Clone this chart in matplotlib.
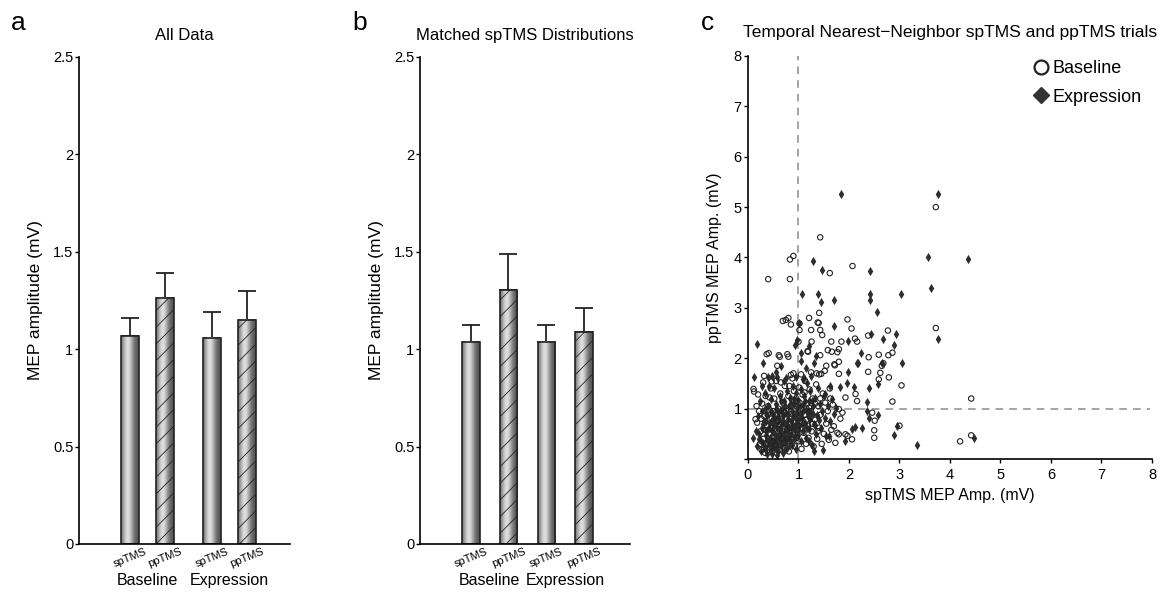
import numpy as np
import matplotlib
matplotlib.use('Agg')
import matplotlib.pyplot as plt
from matplotlib.lines import Line2D

plt.rcParams['font.family'] = ['Liberation Sans', 'DejaVu Sans']
plt.rcParams['hatch.linewidth'] = 0.6

# --- bar panels (a, b) ---
bar_labels = ['spTMS', 'ppTMS', 'spTMS', 'ppTMS']
group_labels = ['Baseline', 'Expression']
all_means = [1.065, 1.265, 1.058, 1.152]
all_sem = [0.095, 0.125, 0.132, 0.148]
matched_means = [1.037, 1.302, 1.037, 1.088]
matched_sem = [0.089, 0.185, 0.088, 0.122]

# --- scatter panel (c): (spTMS, ppTMS) MEP amplitude pairs in mV ---
baseline_pts = [
    (3.72, 5.00), (1.43, 4.40), (0.90, 4.03), (0.83, 3.96), (2.07, 3.83), (1.62, 3.69),
    (0.40, 3.57), (0.83, 3.57), (1.41, 2.90), (1.21, 2.80), (1.97, 2.77), (0.69, 2.74),
    (0.75, 2.76), (0.80, 2.80), (0.85, 2.67), (1.38, 2.71), (3.72, 2.60), (4.42, 1.20),
    (4.20, 0.35), (4.42, 0.47), (3.00, 0.66), (3.04, 1.46), (2.86, 1.14), (2.86, 2.11),
    (2.78, 2.06), (2.59, 2.07), (2.39, 2.02), (2.77, 2.55), (2.38, 2.45), (2.05, 2.59),
    (2.12, 2.39), (2.16, 2.33), (1.85, 2.33), (1.80, 2.18), (1.77, 2.12), (1.66, 2.13),
    (1.58, 2.16), (1.65, 2.33), (1.71, 1.88), (1.80, 1.93), (2.38, 1.73), (2.62, 1.71),
    (2.65, 1.85), (2.68, 1.90), (2.59, 1.58), (2.79, 1.62), (1.80, 1.69), (1.93, 1.22),
    (2.13, 1.29), (2.16, 1.15), (1.63, 1.20), (2.46, 0.92), (2.51, 0.76), (2.50, 0.57),
    (2.50, 0.42), (2.06, 0.39), (1.93, 0.49), (1.97, 0.46), (1.80, 0.49), (1.77, 0.52),
    (1.70, 0.65), (1.87, 0.92), (1.80, 0.99), (1.73, 0.32), (1.83, 0.80), (0.11, 1.39),
    (0.12, 1.34), (0.15, 0.79), (0.37, 2.08), (0.41, 2.10), (0.61, 2.06), (0.63, 2.03),
    (0.78, 2.08), (0.80, 2.03), (1.02, 2.56), (1.02, 2.69), (1.00, 2.33), (1.19, 2.13),
    (1.26, 2.33), (1.25, 2.56), (1.43, 2.56), (1.47, 2.46), (1.40, 2.70), (1.43, 2.06),
    (0.32, 1.65), (0.47, 1.54), (0.85, 1.67), (0.90, 1.70), (1.25, 1.72), (1.36, 1.70),
    (1.41, 1.68), (1.45, 1.69), (1.52, 1.75), (1.55, 1.85), (1.72, 1.86), (1.18, 2.14),
    (0.18, 0.72), (0.22, 0.95), (0.25, 0.55), (0.28, 1.10), (0.30, 0.40), (0.32, 0.85),
    (0.35, 1.25), (0.36, 0.30), (0.38, 0.65), (0.40, 1.05), (0.42, 0.50), (0.44, 0.22),
    (0.45, 1.40), (0.47, 0.80), (0.49, 0.35), (0.50, 0.95), (0.52, 1.20), (0.53, 0.60),
    (0.55, 0.28), (0.56, 1.55), (0.58, 0.75), (0.60, 1.00), (0.61, 0.45), (0.63, 0.18),
    (0.64, 1.30), (0.66, 0.85), (0.68, 0.55), (0.70, 1.12), (0.71, 0.32), (0.73, 1.45),
    (0.75, 0.70), (0.76, 0.95), (0.78, 0.40), (0.80, 1.25), (0.81, 0.15), (0.83, 0.62),
    (0.85, 1.05), (0.86, 0.80), (0.88, 1.60), (0.90, 0.48), (0.91, 1.35), (0.93, 0.25),
    (0.95, 0.90), (0.96, 1.15), (0.98, 0.58), (1.00, 0.35), (1.01, 1.42), (1.03, 0.75),
    (1.05, 1.00), (1.06, 0.20), (1.08, 1.28), (1.10, 0.52), (1.12, 0.88), (1.13, 1.55),
    (1.15, 0.30), (1.17, 1.10), (1.19, 0.66), (1.20, 0.42), (1.22, 1.38), (1.24, 0.95),
    (1.26, 0.55), (1.28, 1.20), (1.30, 0.25), (1.32, 0.78), (1.35, 1.48), (1.37, 0.40),
    (1.39, 1.05), (1.41, 0.62), (1.44, 0.88), (1.46, 0.30), (1.48, 1.30), (1.50, 0.50),
    (1.53, 1.12), (1.55, 0.70), (1.58, 0.95), (1.60, 0.38), (1.62, 1.40), (1.65, 0.58),
    (1.68, 1.08), (0.27, 0.18), (0.34, 0.12), (0.20, 1.28), (0.58, 1.85), (0.30, 1.52),
    (0.24, 0.30), (0.33, 0.58), (0.39, 0.88), (0.46, 0.62), (0.52, 0.42), (0.57, 0.88),
    (0.62, 0.68), (0.67, 0.40), (0.72, 0.92), (0.77, 0.58), (0.82, 0.35), (0.87, 1.18),
    (0.92, 0.72), (0.97, 0.42), (1.02, 1.12), (1.07, 0.62), (1.12, 1.32), (1.16, 0.78),
    (1.21, 1.02), (1.27, 0.70), (1.33, 1.10), (1.38, 0.55), (1.43, 1.20), (0.43, 1.22),
    (0.65, 1.52), (0.82, 1.45), (1.05, 1.68), (0.17, 1.05), (0.26, 0.80), (0.48, 0.15),
]
expression_pts = [
    (1.85, 5.25), (3.76, 5.25), (1.29, 3.93), (3.56, 4.01), (1.47, 3.75), (2.41, 3.74),
    (3.62, 3.39), (1.07, 3.27), (1.38, 3.27), (2.41, 3.27), (3.03, 3.27), (1.45, 3.12),
    (1.70, 3.16), (2.42, 3.16), (2.55, 2.91), (1.02, 2.69), (4.35, 3.97), (4.47, 0.42),
    (3.76, 2.38), (3.34, 0.28), (2.96, 0.66), (2.90, 0.47), (3.04, 1.90), (2.89, 2.26),
    (2.93, 2.48), (2.67, 2.38), (1.70, 2.63), (2.24, 2.10), (1.99, 2.35), (1.99, 1.72),
    (2.16, 1.90), (2.40, 1.40), (1.82, 1.43), (1.97, 1.50), (2.36, 1.14), (1.63, 1.45),
    (1.53, 1.28), (2.40, 0.81), (2.57, 0.88), (2.35, 0.96), (2.26, 0.61), (2.12, 0.63),
    (2.05, 0.60), (1.93, 0.36), (1.61, 0.46), (0.18, 2.28), (0.12, 1.63), (0.09, 0.42),
    (0.48, 1.65), (0.98, 2.36), (0.94, 2.26), (1.04, 2.10), (2.09, 1.42), (2.57, 1.49),
    (2.43, 2.48), (2.65, 1.90), (2.17, 1.90), (1.05, 1.95), (1.15, 1.80), (1.30, 1.90),
    (1.20, 2.25), (1.35, 2.05), (1.10, 1.60), (0.65, 1.85), (0.55, 1.72), (0.75, 1.60),
    (0.30, 1.90), (0.42, 1.45),
    (0.15, 0.55), (0.18, 0.25), (0.20, 0.85), (0.22, 0.40), (0.24, 1.15), (0.25, 0.15),
    (0.27, 0.62), (0.28, 0.95), (0.30, 0.32), (0.31, 0.75), (0.33, 0.20), (0.34, 1.30),
    (0.35, 0.48), (0.37, 0.88), (0.38, 0.10), (0.39, 0.60), (0.40, 1.05), (0.41, 0.28),
    (0.43, 0.72), (0.44, 0.42), (0.45, 1.20), (0.46, 0.18), (0.48, 0.55), (0.49, 0.90),
    (0.50, 0.35), (0.51, 0.68), (0.52, 1.40), (0.53, 0.22), (0.54, 0.80), (0.55, 0.45),
    (0.56, 1.10), (0.57, 0.30), (0.58, 0.62), (0.59, 0.95), (0.60, 0.15), (0.61, 0.50),
    (0.62, 0.78), (0.63, 1.25), (0.64, 0.38), (0.65, 0.65), (0.66, 0.25), (0.67, 1.00),
    (0.68, 0.52), (0.69, 0.85), (0.70, 0.12), (0.71, 0.42), (0.72, 1.15), (0.73, 0.70),
    (0.74, 0.32), (0.75, 0.92), (0.76, 0.55), (0.77, 1.35), (0.78, 0.22), (0.79, 0.80),
    (0.80, 0.45), (0.81, 1.05), (0.82, 0.62), (0.83, 0.35), (0.84, 1.22), (0.85, 0.75),
    (0.86, 0.50), (0.87, 0.95), (0.88, 0.28), (0.89, 1.45), (0.90, 0.68), (0.91, 1.10),
    (0.92, 0.40), (0.93, 0.88), (0.94, 0.58), (0.95, 1.30), (0.96, 0.20), (0.97, 0.78),
    (0.98, 1.02), (0.99, 0.48), (1.00, 1.18), (1.02, 0.65), (1.03, 0.90), (1.04, 1.38),
    (1.05, 0.35), (1.07, 0.82), (1.08, 1.08), (1.09, 0.55), (1.11, 1.25), (1.12, 0.72),
    (1.14, 0.98), (1.15, 0.42), (1.17, 1.50), (1.18, 0.85), (1.20, 1.15), (1.21, 0.60),
    (1.23, 1.35), (1.25, 0.92), (1.27, 0.28), (1.28, 1.05), (1.30, 0.70), (1.32, 1.22),
    (1.34, 0.50), (1.36, 0.88), (1.38, 1.40), (1.40, 0.78), (1.42, 1.10), (1.44, 0.62),
    (1.47, 0.95), (1.50, 1.25), (1.52, 0.82), (1.55, 0.45), (1.58, 1.05), (1.62, 0.75),
    (1.66, 1.20), (1.70, 0.90), (1.75, 1.02), (1.48, 0.18), (1.30, 0.15), (1.20, 0.35),
    (0.58, 1.62), (0.72, 1.55), (0.95, 1.62), (1.08, 1.58), (1.25, 1.65), (0.40, 1.62),
    (0.28, 1.45),
    (0.21, 0.50), (0.26, 0.35), (0.29, 0.70), (0.32, 0.28), (0.36, 0.55), (0.38, 0.38),
    (0.42, 0.62), (0.44, 0.30), (0.47, 0.78), (0.50, 0.25), (0.52, 0.52), (0.54, 0.38),
    (0.56, 0.70), (0.58, 0.20), (0.60, 0.85), (0.62, 0.42), (0.64, 0.58), (0.66, 0.95),
    (0.68, 0.32), (0.70, 0.75), (0.72, 0.50), (0.74, 1.05), (0.76, 0.38), (0.78, 0.68),
    (0.80, 0.90), (0.82, 0.48), (0.84, 0.28), (0.86, 1.10), (0.88, 0.62), (0.90, 0.85),
    (0.92, 1.20), (0.94, 0.45), (0.96, 0.70), (0.98, 0.92), (1.00, 0.58), (1.01, 0.80),
    (1.03, 1.05), (1.06, 0.70), (1.09, 0.95), (1.12, 1.15), (1.16, 0.62), (1.19, 0.98),
    (1.22, 0.80), (1.26, 1.15), (1.29, 0.90), (1.33, 0.68), (0.35, 0.75), (0.45, 0.95),
    (0.55, 1.00), (0.65, 1.15), (0.48, 0.10), (0.58, 0.08), (0.73, 0.20), (0.33, 1.00),
]

fig = plt.figure(figsize=(11.7, 5.94), dpi=100)


def shaded_bar(ax, x, h, w, hatch):
    # cylinder-like grey gradient across the bar
    prof = np.linspace(0, 1, 64)
    shade = 0.32 + 0.55 * np.exp(-((prof - 0.38) / 0.32) ** 2)
    ax.imshow(shade[None, :], cmap='gray', vmin=0, vmax=1, aspect='auto',
              extent=[x - w / 2, x + w / 2, 0, h], zorder=1, interpolation='bilinear')
    ax.bar(x, h, w, facecolor='none', edgecolor='#222222', linewidth=1.2,
           hatch=hatch, zorder=2)


def bar_panel(rect, pos, means, sem, title, letter, letter_x):
    ax = fig.add_axes(rect)
    w = 0.51
    for i, (x, m, e) in enumerate(zip(pos, means, sem)):
        ax.errorbar(x, m, yerr=[[0], [e]], fmt='none', ecolor='#222222',
                    elinewidth=1.3, capsize=6.5, capthick=1.3, zorder=0)
        shaded_bar(ax, x, m, w, '//' if i % 2 else None)
    ax.set_xlim(0, 6.03)
    ax.set_ylim(0, 2.5)
    ax.spines['top'].set_visible(False)
    ax.spines['right'].set_visible(False)
    ax.spines['left'].set_linewidth(1.2)
    ax.spines['bottom'].set_linewidth(1.2)
    ax.set_yticks([0, 0.5, 1, 1.5, 2, 2.5])
    ax.set_yticklabels(['0', '0.5', '1', '1.5', '2', '2.5'], fontsize=10.5)
    ax.tick_params(axis='y', direction='out', length=3, width=1, pad=1)
    ax.set_xticks(pos)
    ax.set_xticklabels(bar_labels, fontsize=8, rotation=22)
    ax.tick_params(axis='x', length=0, pad=2)
    ax.set_ylabel('MEP amplitude (mV)', fontsize=12.5, labelpad=7)
    ax.set_title(title, fontsize=12, pad=12)
    trans = ax.get_xaxis_transform()
    ax.text((pos[0] + pos[1]) / 2, -0.075, group_labels[0], transform=trans,
            ha='center', va='center', fontsize=11.5)
    ax.text((pos[2] + pos[3]) / 2, -0.075, group_labels[1], transform=trans,
            ha='center', va='center', fontsize=11.5)
    fig.text(letter_x, 0.962, letter, fontsize=19, ha='center', va='center')
    return ax


bar_panel([0.0675, 0.0842, 0.1803, 0.820], [1.46, 2.46, 3.80, 4.80],
          all_means, all_sem, 'All Data', 'a', 0.0155)
bar_panel([0.359, 0.0842, 0.1795, 0.820], [1.46, 2.54, 3.63, 4.71],
          matched_means, matched_sem, 'Matched spTMS Distributions', 'b', 0.307)

# --- panel c ---
axc = fig.add_axes([0.6393, 0.2273, 0.3453, 0.6785])
bx, by = np.array(baseline_pts).T
ex, ey = np.array(expression_pts).T
axc.axvline(1, color='#8c8c8c', lw=1.1, dashes=(5, 4), zorder=0)
axc.axhline(1, color='#8c8c8c', lw=1.1, dashes=(5, 4), zorder=0, xmax=0.995)
axc.scatter(ex, ey, marker='d', s=22, color='#2e2e2e', linewidths=0, zorder=2)
axc.scatter(bx, by, marker='o', s=15, facecolors='none', edgecolors='#222222',
            linewidths=0.8, zorder=3)
axc.set_xlim(0, 8)
axc.set_ylim(0, 8)
axc.spines['top'].set_visible(False)
axc.spines['right'].set_visible(False)
axc.spines['left'].set_linewidth(1.2)
axc.spines['bottom'].set_linewidth(1.2)
axc.set_xticks(range(9))
axc.set_yticks(range(9))
axc.set_yticklabels([''] + [str(i) for i in range(1, 9)])
axc.tick_params(direction='out', length=3, width=1, labelsize=10.5, pad=1.5)
axc.tick_params(axis='x', pad=3.5)
axc.set_xlabel('spTMS MEP Amp. (mV)', fontsize=11.5, labelpad=4)
axc.set_ylabel('ppTMS MEP Amp. (mV)', fontsize=11.5, labelpad=8)
axc.set_title('Temporal Nearest\u2212Neighbor spTMS and ppTMS trials', fontsize=12.5, pad=14)
handles = [
    Line2D([], [], marker='o', ls='none', markersize=10, markerfacecolor='none',
           markeredgecolor='#222222', markeredgewidth=1.6, label='Baseline'),
    Line2D([], [], marker='D', ls='none', markersize=8.5, color='#333333',
           label='Expression'),
]
axc.legend(handles=handles, loc='upper left', bbox_to_anchor=(0.68, 1.008),
           frameon=False, fontsize=13, handletextpad=0.05, handlelength=1.2,
           labelspacing=0.65, borderaxespad=0)
fig.text(0.6045, 0.962, 'c', fontsize=19, ha='center', va='center')

fig.savefig('out.png', dpi=100)
